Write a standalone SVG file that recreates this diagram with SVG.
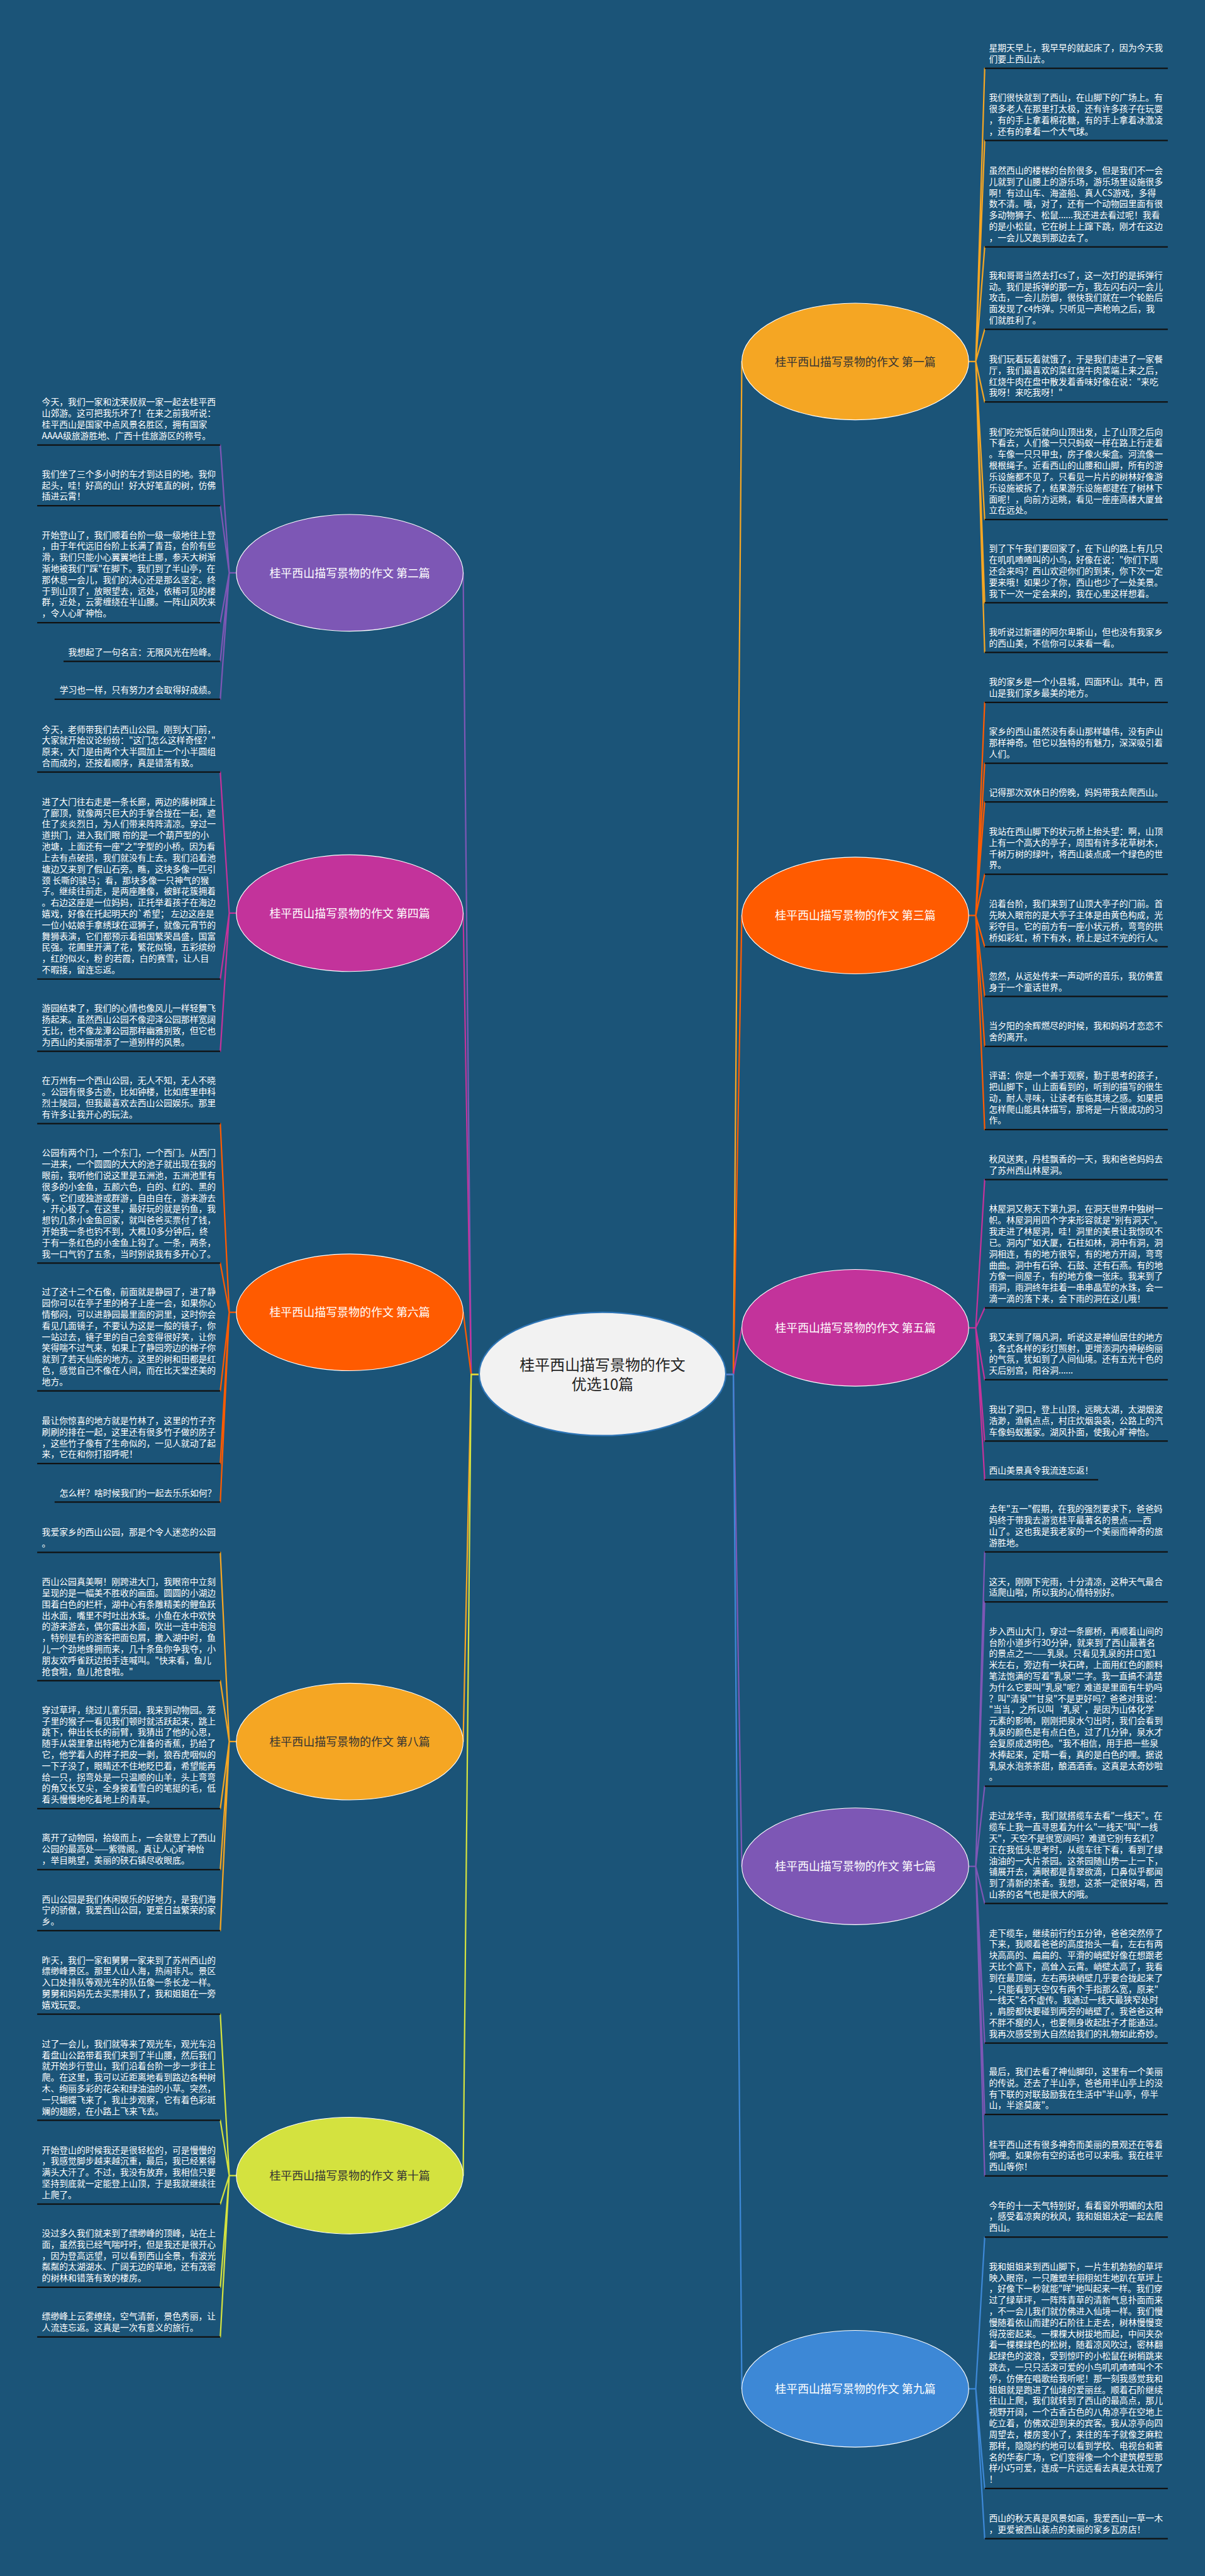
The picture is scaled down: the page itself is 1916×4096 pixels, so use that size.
<svg xmlns="http://www.w3.org/2000/svg" width="1916" height="4096" viewBox="0 0 1916 4096">
<style>
.t{font-family:"Noto Sans CJK SC","Noto Sans",sans-serif;font-size:18.5px;fill:#ffffff}
.tr{font-family:"Noto Sans CJK SC","Noto Sans",sans-serif;font-size:18.5px;fill:#ffffff;text-anchor:end}
.ul{stroke:#111111;stroke-width:3}
.cn{fill:none;stroke-width:3;stroke-linecap:round;stroke-linejoin:round}
.nl{font-family:"Noto Sans CJK SC","Noto Sans",sans-serif;font-size:24px;text-anchor:middle}
.nd{stroke:#ffffff;stroke-width:1.5}
</style>
<rect x="0" y="0" width="1916" height="4096" fill="#1b5478"/>
<g transform="scale(0.7484375)">
<g id="connectors">
<path class="cn" stroke="#7d57b5" d="M1018 2920H1001L984 1217M502 1217H487L468 945.4M487 1217L468 1074.3M487 1217L468 1322.8M487 1217L468 1405M487 1217L468 1485.7"/>
<path class="cn" stroke="#c3339b" d="M1018 2920H1001L984 1940M502 1940H487L468 1640.4M487 1940L468 2080M487 1940L468 2233.5"/>
<path class="cn" stroke="#ff5b00" d="M1018 2920H1001L984 2788M502 2788H487L468 2387M487 2788L468 2683.5M487 2788L468 2955M487 2788L468 3109.4M487 2788L468 3191.3"/>
<path class="cn" stroke="#f5a623" d="M1018 2920H1001L984 3700M502 3700H487L468 3298M487 3700L468 3570.5M487 3700L468 3842.6M487 3700L468 3972M487 3700L468 4101.8"/>
<path class="cn" stroke="#d4e23f" d="M1018 2920H1001L984 4622M502 4622H487L468 4279M487 4622L468 4504.6M487 4622L468 4682.6M487 4622L468 4859.4M487 4622L468 4965"/>
<path class="cn" stroke="#f5a623" d="M1541 2920H1558L1576 768M2058 768H2073L2092 145M2073 768L2092 298.5M2073 768L2092 524.6M2073 768L2092 699.7M2073 768L2092 854M2073 768L2092 1103.7M2073 768L2092 1280.5M2073 768L2092 1386"/>
<path class="cn" stroke="#ff5b00" d="M1541 2920H1558L1576 1945M2058 1945H2073L2092 1492.3M2073 1945L2092 1621.5M2073 1945L2092 1703.6M2073 1945L2092 1857.4M2073 1945L2092 2011.3M2073 1945L2092 2116.9M2073 1945L2092 2223M2073 1945L2092 2399.9"/>
<path class="cn" stroke="#c3339b" d="M1541 2920H1558L1576 2821M2058 2821H2073L2092 2506M2073 2821L2092 2778.7M2073 2821L2092 2931.4M2073 2821L2092 3061.7M2073 2821L2092 3143.8"/>
<path class="cn" stroke="#7d57b5" d="M1541 2920H1558L1576 3965M2058 3965H2073L2092 3297M2073 3965L2092 3403.3M2073 3965L2092 3794.7M2073 3965L2092 4044M2073 3965L2092 4340.5M2073 3965L2092 4492.3M2073 3965L2092 4622.8"/>
<path class="cn" stroke="#3d88d6" d="M1541 2920H1558L1576 5075M2058 5075H2073L2092 4752.6M2073 5075L2092 5286.9M2073 5075L2092 5393.5"/>
</g>
<g id="center">
<ellipse cx="1280" cy="2919" rx="262" ry="131" fill="#f2f2f2" stroke="#2e75b6" stroke-width="3"/>
<text x="1280" y="2912" font-family="Noto Sans CJK SC,Noto Sans,sans-serif" font-size="32" fill="#222222" text-anchor="middle">桂平西山描写景物的作文</text>
<text x="1280" y="2953" font-family="Noto Sans CJK SC,Noto Sans,sans-serif" font-size="32" fill="#222222" text-anchor="middle">优选10篇</text>
</g>
<g id="n1"><ellipse class="nd" cx="1817" cy="768" rx="241" ry="124" fill="#f5a623"/><text class="nl" x="1817" y="777" fill="#333333">桂平西山描写景物的作文 第一篇</text></g>
<g id="n2"><ellipse class="nd" cx="743" cy="1217" rx="241" ry="124" fill="#7d57b5"/><text class="nl" x="743" y="1226" fill="#ffffff">桂平西山描写景物的作文 第二篇</text></g>
<g id="n3"><ellipse class="nd" cx="1817" cy="1945" rx="241" ry="124" fill="#ff5b00"/><text class="nl" x="1817" y="1954" fill="#ffffff">桂平西山描写景物的作文 第三篇</text></g>
<g id="n4"><ellipse class="nd" cx="743" cy="1940" rx="241" ry="124" fill="#c3339b"/><text class="nl" x="743" y="1949" fill="#ffffff">桂平西山描写景物的作文 第四篇</text></g>
<g id="n5"><ellipse class="nd" cx="1817" cy="2821" rx="241" ry="124" fill="#c3339b"/><text class="nl" x="1817" y="2830" fill="#ffffff">桂平西山描写景物的作文 第五篇</text></g>
<g id="n6"><ellipse class="nd" cx="743" cy="2788" rx="241" ry="124" fill="#ff5b00"/><text class="nl" x="743" y="2797" fill="#ffffff">桂平西山描写景物的作文 第六篇</text></g>
<g id="n7"><ellipse class="nd" cx="1817" cy="3965" rx="241" ry="124" fill="#7d57b5"/><text class="nl" x="1817" y="3974" fill="#ffffff">桂平西山描写景物的作文 第七篇</text></g>
<g id="n8"><ellipse class="nd" cx="743" cy="3700" rx="241" ry="124" fill="#f5a623"/><text class="nl" x="743" y="3709" fill="#333333">桂平西山描写景物的作文 第八篇</text></g>
<g id="n9"><ellipse class="nd" cx="1817" cy="5075" rx="241" ry="124" fill="#3d88d6"/><text class="nl" x="1817" y="5084" fill="#ffffff">桂平西山描写景物的作文 第九篇</text></g>
<g id="n10"><ellipse class="nd" cx="743" cy="4622" rx="241" ry="124" fill="#d4e23f"/><text class="nl" x="743" y="4631" fill="#333333">桂平西山描写景物的作文 第十篇</text></g>

<g id="r1"><text class="t" y="108.2"><tspan x="2101">星期天早上，我早早的就起床了，因为今天我</tspan><tspan x="2101" dy="23.8">们要上西山去。</tspan></text><line class="ul" x1="2092" y1="145" x2="2481" y2="145"/></g>
<g id="r2"><text class="t" y="214.1"><tspan x="2101">我们很快就到了西山，在山脚下的广场上。有</tspan><tspan x="2101" dy="23.8">很多老人在那里打太极，还有许多孩子在玩耍</tspan><tspan x="2101" dy="23.8">，有的手上拿着棉花糖，有的手上拿着冰激凌</tspan><tspan x="2101" dy="23.8">，还有的拿着一个大气球。</tspan></text><line class="ul" x1="2092" y1="298.5" x2="2481" y2="298.5"/></g>
<g id="r3"><text class="t" y="368.8"><tspan x="2101">虽然西山的楼梯的台阶很多，但是我们不一会</tspan><tspan x="2101" dy="23.8">儿就到了山腰上的游乐场，游乐场里设施很多</tspan><tspan x="2101" dy="23.8">啊！有过山车、海盗船、真人CS游戏，多得</tspan><tspan x="2101" dy="23.8">数不清。哦，对了，还有一个动物园里面有很</tspan><tspan x="2101" dy="23.8">多动物狮子、松鼠......我还进去看过呢！我看</tspan><tspan x="2101" dy="23.8">的是小松鼠，它在树上上蹿下跳，刚才在这边</tspan><tspan x="2101" dy="23.8">，一会儿又跑到那边去了。</tspan></text><line class="ul" x1="2092" y1="524.6" x2="2481" y2="524.6"/></g>
<g id="r4"><text class="t" y="591.5"><tspan x="2101">我和哥哥当然去打cs了，这一次打的是拆弹行</tspan><tspan x="2101" dy="23.8">动。我们是拆弹的那一方，我左闪右闪一会儿</tspan><tspan x="2101" dy="23.8">攻击，一会儿防御，很快我们就在一个轮胎后</tspan><tspan x="2101" dy="23.8">面发现了c4炸弹。只听见一声枪响之后，我</tspan><tspan x="2101" dy="23.8">们就胜利了。</tspan></text><line class="ul" x1="2092" y1="699.7" x2="2481" y2="699.7"/></g>
<g id="r5"><text class="t" y="769.6"><tspan x="2101">我们玩着玩着就饿了，于是我们走进了一家餐</tspan><tspan x="2101" dy="23.8">厅，我们最喜欢的菜红烧牛肉菜端上来之后，</tspan><tspan x="2101" dy="23.8">红烧牛肉在盘中散发着香味好像在说："来吃</tspan><tspan x="2101" dy="23.8">我呀！来吃我呀！"</tspan></text><line class="ul" x1="2092" y1="854" x2="2481" y2="854"/></g>
<g id="r6"><text class="t" y="924.1"><tspan x="2101">我们吃完饭后就向山顶出发，上了山顶之后向</tspan><tspan x="2101" dy="23.8">下看去，人们像一只只蚂蚁一样在路上行走着</tspan><tspan x="2101" dy="23.8">。车像一只只甲虫，房子像火柴盒。河流像一</tspan><tspan x="2101" dy="23.8">根根绳子。近看西山的山腰和山脚，所有的游</tspan><tspan x="2101" dy="23.8">乐设施都不见了。只看见一片片的树林好像游</tspan><tspan x="2101" dy="23.8">乐设施被拆了，结果游乐设施都建在了树林下</tspan><tspan x="2101" dy="23.8">面呢！，向前方远眺，看见一座座高楼大厦耸</tspan><tspan x="2101" dy="23.8">立在远处。</tspan></text><line class="ul" x1="2092" y1="1103.7" x2="2481" y2="1103.7"/></g>
<g id="r7"><text class="t" y="1172.3"><tspan x="2101">到了下午我们要回家了，在下山的路上有几只</tspan><tspan x="2101" dy="23.8">在叽叽喳喳叫的小鸟，好像在说："你们下周</tspan><tspan x="2101" dy="23.8">还会来吗？西山欢迎你们的到来，你下次一定</tspan><tspan x="2101" dy="23.8">要来哦！如果少了你，西山也少了一处美景。</tspan><tspan x="2101" dy="23.8">我下一次一定会来的，我在心里这样想着。</tspan></text><line class="ul" x1="2092" y1="1280.5" x2="2481" y2="1280.5"/></g>
<g id="r8"><text class="t" y="1349.2"><tspan x="2101">我听说过新疆的阿尔卑斯山，但也没有我家乡</tspan><tspan x="2101" dy="23.8">的西山美，不信你可以来看一看。</tspan></text><line class="ul" x1="2092" y1="1386" x2="2481" y2="1386"/></g>
<g id="r9"><text class="t" y="1455.5"><tspan x="2101">我的家乡是一个小县城，四面环山。其中，西</tspan><tspan x="2101" dy="23.8">山是我们家乡最美的地方。</tspan></text><line class="ul" x1="2092" y1="1492.3" x2="2481" y2="1492.3"/></g>
<g id="r10"><text class="t" y="1560.9"><tspan x="2101">家乡的西山虽然没有泰山那样雄伟，没有庐山</tspan><tspan x="2101" dy="23.8">那样神奇。但它以独特的有魅力，深深吸引着</tspan><tspan x="2101" dy="23.8">人们。</tspan></text><line class="ul" x1="2092" y1="1621.5" x2="2481" y2="1621.5"/></g>
<g id="r11"><text class="t" y="1690.6"><tspan x="2101">记得那次双休日的傍晚，妈妈带我去爬西山。</tspan></text><line class="ul" x1="2092" y1="1703.6" x2="2481" y2="1703.6"/></g>
<g id="r12"><text class="t" y="1773"><tspan x="2101">我站在西山脚下的状元桥上抬头望：啊，山顶</tspan><tspan x="2101" dy="23.8">上有一个高大的亭子，周围有许多花草树木，</tspan><tspan x="2101" dy="23.8">千树万树的绿叶，将西山装点成一个绿色的世</tspan><tspan x="2101" dy="23.8">界。</tspan></text><line class="ul" x1="2092" y1="1857.4" x2="2481" y2="1857.4"/></g>
<g id="r13"><text class="t" y="1926.9"><tspan x="2101">沿着台阶，我们来到了山顶大亭子的门前。首</tspan><tspan x="2101" dy="23.8">先映入眼帘的是大亭子主体是由黄色构成，光</tspan><tspan x="2101" dy="23.8">彩夺目。它的前方有一座小状元桥，弯弯的拱</tspan><tspan x="2101" dy="23.8">桥如彩虹，桥下有水，桥上是过不完的行人。</tspan></text><line class="ul" x1="2092" y1="2011.3" x2="2481" y2="2011.3"/></g>
<g id="r14"><text class="t" y="2080.1"><tspan x="2101">忽然，从远处传来一声动听的音乐，我仿佛置</tspan><tspan x="2101" dy="23.8">身于一个童话世界。</tspan></text><line class="ul" x1="2092" y1="2116.9" x2="2481" y2="2116.9"/></g>
<g id="r15"><text class="t" y="2186.2"><tspan x="2101">当夕阳的余辉燃尽的时候，我和妈妈才恋恋不</tspan><tspan x="2101" dy="23.8">舍的离开。</tspan></text><line class="ul" x1="2092" y1="2223" x2="2481" y2="2223"/></g>
<g id="r16"><text class="t" y="2291.7"><tspan x="2101">评语：你是一个善于观察，勤于思考的孩子，</tspan><tspan x="2101" dy="23.8">把山脚下，山上面看到的，听到的描写的很生</tspan><tspan x="2101" dy="23.8">动，耐人寻味，让读者有临其境之感。如果把</tspan><tspan x="2101" dy="23.8">怎样爬山能具体描写，那将是一片很成功的习</tspan><tspan x="2101" dy="23.8">作。</tspan></text><line class="ul" x1="2092" y1="2399.9" x2="2481" y2="2399.9"/></g>
<g id="r17"><text class="t" y="2469.2"><tspan x="2101">秋风送爽，丹桂飘香的一天，我和爸爸妈妈去</tspan><tspan x="2101" dy="23.8">了苏州西山林屋洞。</tspan></text><line class="ul" x1="2092" y1="2506" x2="2481" y2="2506"/></g>
<g id="r18"><text class="t" y="2575.3"><tspan x="2101">林屋洞又称天下第九洞，在洞天世界中独树一</tspan><tspan x="2101" dy="23.8">帜。林屋洞用四个字来形容就是"别有洞天"。</tspan><tspan x="2101" dy="23.8">我走进了林屋洞，哇！洞里的美景让我惊叹不</tspan><tspan x="2101" dy="23.8">已。洞内广如大厦，石柱如林，洞中有洞，洞</tspan><tspan x="2101" dy="23.8">洞相连，有的地方很窄，有的地方开阔，弯弯</tspan><tspan x="2101" dy="23.8">曲曲。洞中有石钟、石鼓、还有石燕。有的地</tspan><tspan x="2101" dy="23.8">方像一间屋子，有的地方像一张床。我来到了</tspan><tspan x="2101" dy="23.8">雨洞，雨洞终年挂着一串串晶莹的水珠，会一</tspan><tspan x="2101" dy="23.8">滴一滴的落下来，会下雨的洞在这儿哦！</tspan></text><line class="ul" x1="2092" y1="2778.7" x2="2481" y2="2778.7"/></g>
<g id="r19"><text class="t" y="2847"><tspan x="2101">我又来到了隔凡洞，听说这是神仙居住的地方</tspan><tspan x="2101" dy="23.8">，各式各样的彩灯照射，更增添洞内神秘绚丽</tspan><tspan x="2101" dy="23.8">的气氛，犹如到了人间仙境。还有五光十色的</tspan><tspan x="2101" dy="23.8">天后别宫，阳谷洞......</tspan></text><line class="ul" x1="2092" y1="2931.4" x2="2481" y2="2931.4"/></g>
<g id="r20"><text class="t" y="3001.1"><tspan x="2101">我出了洞口，登上山顶，远眺太湖，太湖烟波</tspan><tspan x="2101" dy="23.8">浩渺，渔帆点点，村庄炊烟袅袅，公路上的汽</tspan><tspan x="2101" dy="23.8">车像蚂蚁搬家。湖风扑面，使我心旷神怡。</tspan></text><line class="ul" x1="2092" y1="3061.7" x2="2481" y2="3061.7"/></g>
<g id="r21"><text class="t" y="3130.8"><tspan x="2101">西山美景真令我流连忘返！</tspan></text><line class="ul" x1="2092" y1="3143.8" x2="2333" y2="3143.8"/></g>
<g id="r22"><text class="t" y="3212.6"><tspan x="2101">去年"五一"假期，在我的强烈要求下，爸爸妈</tspan><tspan x="2101" dy="23.8">妈终于带我去游览桂平最著名的景点——西</tspan><tspan x="2101" dy="23.8">山了。这也我是我老家的一个美丽而神奇的旅</tspan><tspan x="2101" dy="23.8">游胜地。</tspan></text><line class="ul" x1="2092" y1="3297" x2="2481" y2="3297"/></g>
<g id="r23"><text class="t" y="3366.5"><tspan x="2101">这天，刚刚下完雨，十分清凉，这种天气最合</tspan><tspan x="2101" dy="23.8">适爬山啦，所以我的心情特别好。</tspan></text><line class="ul" x1="2092" y1="3403.3" x2="2481" y2="3403.3"/></g>
<g id="r24"><text class="t" y="3472.3"><tspan x="2101">步入西山大门，穿过一条廊桥，再顺着山间的</tspan><tspan x="2101" dy="23.8">台阶小道步行30分钟，就来到了西山最著名</tspan><tspan x="2101" dy="23.8">的景点之一——乳泉。只看见乳泉的井口宽1</tspan><tspan x="2101" dy="23.8">米左右，旁边有一块石碑，上面用红色的颜料</tspan><tspan x="2101" dy="23.8">笔法饱满的写着"乳泉"二字。我一直搞不清楚</tspan><tspan x="2101" dy="23.8">为什么它要叫"乳泉"呢？难道是里面有牛奶吗</tspan><tspan x="2101" dy="23.8">？叫"清泉""甘泉"不是更好吗？爸爸对我说：</tspan><tspan x="2101" dy="23.8">"当当，之所以叫‘乳泉’，是因为山体化学</tspan><tspan x="2101" dy="23.8">元素的影响，刚刚把泉水勺出时，我们会看到</tspan><tspan x="2101" dy="23.8">乳泉的颜色是有点白色，过了几分钟，泉水才</tspan><tspan x="2101" dy="23.8">会复原成透明色。"我不相信，用手把一些泉</tspan><tspan x="2101" dy="23.8">水捧起来，定睛一看，真的是白色的哩。据说</tspan><tspan x="2101" dy="23.8">乳泉水泡茶茶甜，酿酒酒香。这真是太奇妙啦</tspan><tspan x="2101" dy="23.8">。</tspan></text><line class="ul" x1="2092" y1="3794.7" x2="2481" y2="3794.7"/></g>
<g id="r25"><text class="t" y="3864.4"><tspan x="2101">走过龙华寺，我们就搭缆车去看"一线天"。在</tspan><tspan x="2101" dy="23.8">缆车上我一直寻思着为什么"一线天"叫"一线</tspan><tspan x="2101" dy="23.8">天"，天空不是很宽阔吗？难道它别有玄机？</tspan><tspan x="2101" dy="23.8">正在我低头思考时，从缆车往下看，看到了绿</tspan><tspan x="2101" dy="23.8">油油的一大片茶园。这茶园随山势一上一下，</tspan><tspan x="2101" dy="23.8">铺展开去，满眼都是青翠欲滴，口鼻似乎都闻</tspan><tspan x="2101" dy="23.8">到了清新的茶香。我想，这茶一定很好喝，西</tspan><tspan x="2101" dy="23.8">山茶的名气也是很大的哦。</tspan></text><line class="ul" x1="2092" y1="4044" x2="2481" y2="4044"/></g>
<g id="r26"><text class="t" y="4113.3"><tspan x="2101">走下缆车，继续前行约五分钟，爸爸突然停了</tspan><tspan x="2101" dy="23.8">下来，我顺着爸爸的高度抬头一看，左右有两</tspan><tspan x="2101" dy="23.8">块高高的、扁扁的、平滑的峭壁好像在想跟老</tspan><tspan x="2101" dy="23.8">天比个高下，高耸入云霄。峭壁太高了，我看</tspan><tspan x="2101" dy="23.8">到在最顶端，左右两块峭壁几乎要合拢起来了</tspan><tspan x="2101" dy="23.8">，只能看到天空仅有两个手指那么宽，原来"</tspan><tspan x="2101" dy="23.8">一线天"名不虚传。我通过一线天最狭窄处时</tspan><tspan x="2101" dy="23.8">，肩膀都快要碰到两旁的峭壁了。我爸爸这种</tspan><tspan x="2101" dy="23.8">不胖不瘦的人，也要侧身收起肚子才能通过。</tspan><tspan x="2101" dy="23.8">我再次感受到大自然给我们的礼物如此奇妙。</tspan></text><line class="ul" x1="2092" y1="4340.5" x2="2481" y2="4340.5"/></g>
<g id="r27"><text class="t" y="4407.9"><tspan x="2101">最后，我们去看了神仙脚印，这里有一个美丽</tspan><tspan x="2101" dy="23.8">的传说。还去了半山亭，爸爸用半山亭上的没</tspan><tspan x="2101" dy="23.8">有下联的对联鼓励我在生活中"半山亭，停半</tspan><tspan x="2101" dy="23.8">山，半途莫废"。</tspan></text><line class="ul" x1="2092" y1="4492.3" x2="2481" y2="4492.3"/></g>
<g id="r28"><text class="t" y="4562.2"><tspan x="2101">桂平西山还有很多神奇而美丽的景观还在等着</tspan><tspan x="2101" dy="23.8">你哩。如果你有空的话也可以来哦。我在桂平</tspan><tspan x="2101" dy="23.8">西山等你！</tspan></text><line class="ul" x1="2092" y1="4622.8" x2="2481" y2="4622.8"/></g>
<g id="r29"><text class="t" y="4692"><tspan x="2101">今年的十一天气特别好，看着窗外明媚的太阳</tspan><tspan x="2101" dy="23.8">，感受着凉爽的秋风，我和姐姐决定一起去爬</tspan><tspan x="2101" dy="23.8">西山。</tspan></text><line class="ul" x1="2092" y1="4752.6" x2="2481" y2="4752.6"/></g>
<g id="r30"><text class="t" y="4821.7"><tspan x="2101">我和姐姐来到西山脚下，一片生机勃勃的草坪</tspan><tspan x="2101" dy="23.8">映入眼帘，一只雕塑羊栩栩如生地趴在草坪上</tspan><tspan x="2101" dy="23.8">，好像下一秒就能"咩"地叫起来一样。我们穿</tspan><tspan x="2101" dy="23.8">过了绿草坪，一阵阵青草的清新气息扑面而来</tspan><tspan x="2101" dy="23.8">，不一会儿我们就仿佛进入仙境一样。我们慢</tspan><tspan x="2101" dy="23.8">慢随着依山而建的石阶往上走去，树林慢慢变</tspan><tspan x="2101" dy="23.8">得茂密起来。一棵棵大树拔地而起，中间夹杂</tspan><tspan x="2101" dy="23.8">着一棵棵绿色的松树，随着凉风吹过，密林翻</tspan><tspan x="2101" dy="23.8">起绿色的波浪，受到惊吓的小松鼠在树梢跳来</tspan><tspan x="2101" dy="23.8">跳去，一只只活泼可爱的小鸟叽叽喳喳叫个不</tspan><tspan x="2101" dy="23.8">停，仿佛在唱歌给我听呢！那一刻我感觉我和</tspan><tspan x="2101" dy="23.8">姐姐就是跑进了仙境的爱丽丝。顺着石阶继续</tspan><tspan x="2101" dy="23.8">往山上爬，我们就转到了西山的最高点，那儿</tspan><tspan x="2101" dy="23.8">视野开阔，一个古香古色的八角凉亭在空地上</tspan><tspan x="2101" dy="23.8">屹立着，仿佛欢迎到来的宾客。我从凉亭向四</tspan><tspan x="2101" dy="23.8">周望去，楼房变小了，来往的车子就像芝麻粒</tspan><tspan x="2101" dy="23.8">那样，隐隐约约地可以看到学校、电视台和著</tspan><tspan x="2101" dy="23.8">名的华泰广场，它们变得像一个个建筑模型那</tspan><tspan x="2101" dy="23.8">样小巧可爱，连成一片远远看去真是太壮观了</tspan><tspan x="2101" dy="23.8">！</tspan></text><line class="ul" x1="2092" y1="5286.9" x2="2481" y2="5286.9"/></g>
<g id="r31"><text class="t" y="5356.7"><tspan x="2101">西山的秋天真是风景如画，我爱西山一草一木</tspan><tspan x="2101" dy="23.8">，更爱被西山装点的美丽的家乡瓦房店！</tspan></text><line class="ul" x1="2092" y1="5393.5" x2="2481" y2="5393.5"/></g>

<g id="l1"><text class="t" y="861"><tspan x="89">今天，我们一家和沈荣叔叔一家一起去桂平西</tspan><tspan x="89" dy="23.8">山郊游。这可把我乐坏了！在来之前我听说：</tspan><tspan x="89" dy="23.8">桂平西山是国家中点风景名胜区，拥有国家</tspan><tspan x="89" dy="23.8">AAAA级旅游胜地、广西十佳旅游区的称号。</tspan></text><line class="ul" x1="79" y1="945.4" x2="468" y2="945.4"/></g>
<g id="l2"><text class="t" y="1013.7"><tspan x="89">我们坐了三个多小时的车才到达目的地。我仰</tspan><tspan x="89" dy="23.8">起头，哇！好高的山！好大好笔直的树，仿佛</tspan><tspan x="89" dy="23.8">插进云霄！</tspan></text><line class="ul" x1="79" y1="1074.3" x2="468" y2="1074.3"/></g>
<g id="l3"><text class="t" y="1143.2"><tspan x="89">开始登山了，我们顺着台阶一级一级地往上登</tspan><tspan x="89" dy="23.8">，由于年代远旧台阶上长满了青苔，台阶有些</tspan><tspan x="89" dy="23.8">滑，我们只能小心翼翼地往上挪，参天大树渐</tspan><tspan x="89" dy="23.8">渐地被我们"踩"在脚下。我们到了半山亭，在</tspan><tspan x="89" dy="23.8">那休息一会儿，我们的决心还是那么坚定。终</tspan><tspan x="89" dy="23.8">于到山顶了，放眼望去，远处，依稀可见的楼</tspan><tspan x="89" dy="23.8">群，近处，云雾缠绕在半山腰。一阵山风吹来</tspan><tspan x="89" dy="23.8">，令人心旷神怡。</tspan></text><line class="ul" x1="79" y1="1322.8" x2="468" y2="1322.8"/></g>
<g id="l4"><text class="tr" x="459" y="1392">我想起了一句名言：无限风光在险峰。</text><line class="ul" x1="135" y1="1405" x2="468" y2="1405"/></g>
<g id="l5"><text class="tr" x="459" y="1472.7">学习也一样，只有努力才会取得好成绩。</text><line class="ul" x1="116" y1="1485.7" x2="468" y2="1485.7"/></g>
<g id="l6"><text class="t" y="1556"><tspan x="89">今天，老师带我们去西山公园。刚到大门前，</tspan><tspan x="89" dy="23.8">大家就开始议论纷纷："这门怎么这样奇怪？"</tspan><tspan x="89" dy="23.8">原来，大门是由两个大半圆加上一个小半圆组</tspan><tspan x="89" dy="23.8">合而成的，还按着顺序，真是错落有致。</tspan></text><line class="ul" x1="79" y1="1640.4" x2="468" y2="1640.4"/></g>
<g id="l7"><text class="t" y="1710"><tspan x="89">进了大门往右走是一条长廊，两边的藤树蹿上</tspan><tspan x="89" dy="23.8">了廊顶，就像两只巨大的手掌合拢在一起，遮</tspan><tspan x="89" dy="23.8">住了炎炎烈日，为人们带来阵阵清凉。穿过一</tspan><tspan x="89" dy="23.8">道拱门，进入我们眼 帘的是一个葫芦型的小</tspan><tspan x="89" dy="23.8">池塘，上面还有一座"之"字型的小桥。因为看</tspan><tspan x="89" dy="23.8">上去有点破损，我们就没有上去。我们沿着池</tspan><tspan x="89" dy="23.8">塘边又来到了假山石旁。瞧，这块多像一匹引</tspan><tspan x="89" dy="23.8">颈 长嘶的骏马；看，那块多像一只神气的猴</tspan><tspan x="89" dy="23.8">子。继续往前走，是两座雕像，被鲜花簇拥着</tspan><tspan x="89" dy="23.8">。右边这座是一位妈妈，正托举着孩子在海边</tspan><tspan x="89" dy="23.8">嬉戏，好像在托起明天的`希望； 左边这座是</tspan><tspan x="89" dy="23.8">一位小姑娘手拿绣球在逗狮子，就像元宵节的</tspan><tspan x="89" dy="23.8">舞狮表演，它们都预示着祖国繁荣昌盛，国富</tspan><tspan x="89" dy="23.8">民强。花圃里开满了花，繁花似锦，五彩缤纷</tspan><tspan x="89" dy="23.8">，红的似火，粉 的若霞，白的赛雪，让人目</tspan><tspan x="89" dy="23.8">不暇接，留连忘返。</tspan></text><line class="ul" x1="79" y1="2080" x2="468" y2="2080"/></g>
<g id="l8"><text class="t" y="2149.1"><tspan x="89">游园结束了，我们的心情也像风儿一样轻舞飞</tspan><tspan x="89" dy="23.8">扬起来。虽然西山公园不像迎泽公园那样宽阔</tspan><tspan x="89" dy="23.8">无比，也不像龙潭公园那样幽雅别致，但它也</tspan><tspan x="89" dy="23.8">为西山的美丽增添了一道别样的风景。</tspan></text><line class="ul" x1="79" y1="2233.5" x2="468" y2="2233.5"/></g>
<g id="l9"><text class="t" y="2302.6"><tspan x="89">在万州有一个西山公园，无人不知，无人不晓</tspan><tspan x="89" dy="23.8">。公园有很多古迹，比如钟楼，比如库里申科</tspan><tspan x="89" dy="23.8">烈士陵园，但我最喜欢去西山公园娱乐。那里</tspan><tspan x="89" dy="23.8">有许多让我开心的玩法。</tspan></text><line class="ul" x1="79" y1="2387" x2="468" y2="2387"/></g>
<g id="l10"><text class="t" y="2456.3"><tspan x="89">公园有两个门，一个东门，一个西门。从西门</tspan><tspan x="89" dy="23.8">一进来，一个圆圆的大大的池子就出现在我的</tspan><tspan x="89" dy="23.8">眼前，我听他们说这里是五洲池，五洲池里有</tspan><tspan x="89" dy="23.8">很多的小金鱼，五颜六色，白的、红的、黑的</tspan><tspan x="89" dy="23.8">等，它们或独游或群游，自由自在，游来游去</tspan><tspan x="89" dy="23.8">，开心极了。在这里，最好玩的就是钓鱼，我</tspan><tspan x="89" dy="23.8">想钓几条小金鱼回家，就叫爸爸买票付了钱，</tspan><tspan x="89" dy="23.8">开始我一条也钓不到，大概10多分钟后，终</tspan><tspan x="89" dy="23.8">于有一条红色的小金鱼上钩了。一条，两条，</tspan><tspan x="89" dy="23.8">我一口气钓了五条，当时别说我有多开心了。</tspan></text><line class="ul" x1="79" y1="2683.5" x2="468" y2="2683.5"/></g>
<g id="l11"><text class="t" y="2751.6"><tspan x="89">过了这十二个石像，前面就是静园了，进了静</tspan><tspan x="89" dy="23.8">园你可以在亭子里的椅子上座一会，如果你心</tspan><tspan x="89" dy="23.8">情郁闷，可以进静园最里面的洞里，这时你会</tspan><tspan x="89" dy="23.8">看见几面镜子，不要认为这是一般的镜子，你</tspan><tspan x="89" dy="23.8">一站过去，镜子里的自己会变得很好笑，让你</tspan><tspan x="89" dy="23.8">笑得喘不过气来，如果上了静园旁边的梯子你</tspan><tspan x="89" dy="23.8">就到了若天仙般的地方。这里的树和田都是红</tspan><tspan x="89" dy="23.8">色，感觉自己不像在人间，而在比天堂还美的</tspan><tspan x="89" dy="23.8">地方。</tspan></text><line class="ul" x1="79" y1="2955" x2="468" y2="2955"/></g>
<g id="l12"><text class="t" y="3025"><tspan x="89">最让你惊喜的地方就是竹林了，这里的竹子齐</tspan><tspan x="89" dy="23.8">刷刷的排在一起，这里还有很多竹子做的房子</tspan><tspan x="89" dy="23.8">，这些竹子像有了生命似的，一见人就动了起</tspan><tspan x="89" dy="23.8">来，它在和你打招呼呢！</tspan></text><line class="ul" x1="79" y1="3109.4" x2="468" y2="3109.4"/></g>
<g id="l13"><text class="tr" x="459" y="3178.3">怎么样？啥时候我们约一起去乐乐如何？</text><line class="ul" x1="116" y1="3191.3" x2="468" y2="3191.3"/></g>
<g id="l14"><text class="t" y="3261.2"><tspan x="89">我爱家乡的西山公园，那是个令人迷恋的公园</tspan><tspan x="89" dy="23.8">。</tspan></text><line class="ul" x1="79" y1="3298" x2="468" y2="3298"/></g>
<g id="l15"><text class="t" y="3367.1"><tspan x="89">西山公园真美啊！刚跨进大门，我眼帘中立刻</tspan><tspan x="89" dy="23.8">呈现的是一幅美不胜收的画面。圆圆的小湖边</tspan><tspan x="89" dy="23.8">围着白色的栏杆，湖中心有条雕精美的鲤鱼跃</tspan><tspan x="89" dy="23.8">出水面，嘴里不时吐出水珠。小鱼在水中欢快</tspan><tspan x="89" dy="23.8">的游来游去，偶尔露出水面，吹出一连中泡泡</tspan><tspan x="89" dy="23.8">，特别是有的游客把面包屑，撒入湖中时，鱼</tspan><tspan x="89" dy="23.8">儿一个劲地蜂拥而来，几十条鱼你争我夺，小</tspan><tspan x="89" dy="23.8">朋友欢呼雀跃边拍手连喊叫。"快来看，鱼儿</tspan><tspan x="89" dy="23.8">抢食啦，鱼儿抢食啦。"</tspan></text><line class="ul" x1="79" y1="3570.5" x2="468" y2="3570.5"/></g>
<g id="l16"><text class="t" y="3639.2"><tspan x="89">穿过草坪，绕过儿童乐园，我来到动物园。笼</tspan><tspan x="89" dy="23.8">子里的猴子一看见我们顿时就活跃起来，跳上</tspan><tspan x="89" dy="23.8">跳下，伸出长长的前臂，我猜出了他的心思，</tspan><tspan x="89" dy="23.8">随手从袋里拿出特地为它准备的香蕉，扔给了</tspan><tspan x="89" dy="23.8">它，他学着人的样子把皮一剥，狼吞虎咽似的</tspan><tspan x="89" dy="23.8">一下子没了，眼睛还不住地眨巴着，希望能再</tspan><tspan x="89" dy="23.8">给一只，拐弯处是一只温顺的山羊，头上弯弯</tspan><tspan x="89" dy="23.8">的角又长又尖，全身披着雪白的笔挺的毛，低</tspan><tspan x="89" dy="23.8">着头慢慢地吃着地上的青草。</tspan></text><line class="ul" x1="79" y1="3842.6" x2="468" y2="3842.6"/></g>
<g id="l17"><text class="t" y="3911.4"><tspan x="89">离开了动物园，拾级而上，一会就登上了西山</tspan><tspan x="89" dy="23.8">公园的最高处——紫微阁。真让人心旷神怡</tspan><tspan x="89" dy="23.8">，举目眺望，美丽的硖石镇尽收眼底。</tspan></text><line class="ul" x1="79" y1="3972" x2="468" y2="3972"/></g>
<g id="l18"><text class="t" y="4041.2"><tspan x="89">西山公园是我们休闲娱乐的好地方，是我们海</tspan><tspan x="89" dy="23.8">宁的骄傲，我爱西山公园，更爱日益繁荣的家</tspan><tspan x="89" dy="23.8">乡。</tspan></text><line class="ul" x1="79" y1="4101.8" x2="468" y2="4101.8"/></g>
<g id="l19"><text class="t" y="4170.8"><tspan x="89">昨天，我们一家和舅舅一家来到了苏州西山的</tspan><tspan x="89" dy="23.8">缥缈峰景区。那里人山人海，热闹非凡。景区</tspan><tspan x="89" dy="23.8">入口处排队等观光车的队伍像一条长龙一样。</tspan><tspan x="89" dy="23.8">舅舅和妈妈先去买票排队了，我和姐姐在一旁</tspan><tspan x="89" dy="23.8">嬉戏玩耍。</tspan></text><line class="ul" x1="79" y1="4279" x2="468" y2="4279"/></g>
<g id="l20"><text class="t" y="4348.8"><tspan x="89">过了一会儿，我们就等来了观光车，观光车沿</tspan><tspan x="89" dy="23.8">着盘山公路带着我们来到了半山腰，然后我们</tspan><tspan x="89" dy="23.8">就开始步行登山，我们沿着台阶一步一步往上</tspan><tspan x="89" dy="23.8">爬。在这里，我可以近距离地看到路边各种树</tspan><tspan x="89" dy="23.8">木、绚丽多彩的花朵和绿油油的小草。突然，</tspan><tspan x="89" dy="23.8">一只蝴蝶飞来了，我止步观察，它有着色彩斑</tspan><tspan x="89" dy="23.8">斓的翅膀，在小路上飞来飞去。</tspan></text><line class="ul" x1="79" y1="4504.6" x2="468" y2="4504.6"/></g>
<g id="l21"><text class="t" y="4574.4"><tspan x="89">开始登山的时候我还是很轻松的，可是慢慢的</tspan><tspan x="89" dy="23.8">，我感觉脚步越来越沉重，最后，我已经累得</tspan><tspan x="89" dy="23.8">满头大汗了。不过，我没有放弃，我相信只要</tspan><tspan x="89" dy="23.8">坚持到底就一定能登上山顶，于是我就继续往</tspan><tspan x="89" dy="23.8">上爬了。</tspan></text><line class="ul" x1="79" y1="4682.6" x2="468" y2="4682.6"/></g>
<g id="l22"><text class="t" y="4751.2"><tspan x="89">没过多久我们就来到了缥缈峰的顶峰，站在上</tspan><tspan x="89" dy="23.8">面，虽然我已经气喘吁吁，但是我还是很开心</tspan><tspan x="89" dy="23.8">，因为登高远望，可以看到西山全景，有波光</tspan><tspan x="89" dy="23.8">粼粼的太湖湖水、广阔无边的草地，还有茂密</tspan><tspan x="89" dy="23.8">的树林和错落有致的楼房。</tspan></text><line class="ul" x1="79" y1="4859.4" x2="468" y2="4859.4"/></g>
<g id="l23"><text class="t" y="4928.2"><tspan x="89">缥缈峰上云雾缭绕，空气清新，景色秀丽，让</tspan><tspan x="89" dy="23.8">人流连忘返。这真是一次有意义的旅行。</tspan></text><line class="ul" x1="79" y1="4965" x2="468" y2="4965"/></g>
</g>
</svg>
